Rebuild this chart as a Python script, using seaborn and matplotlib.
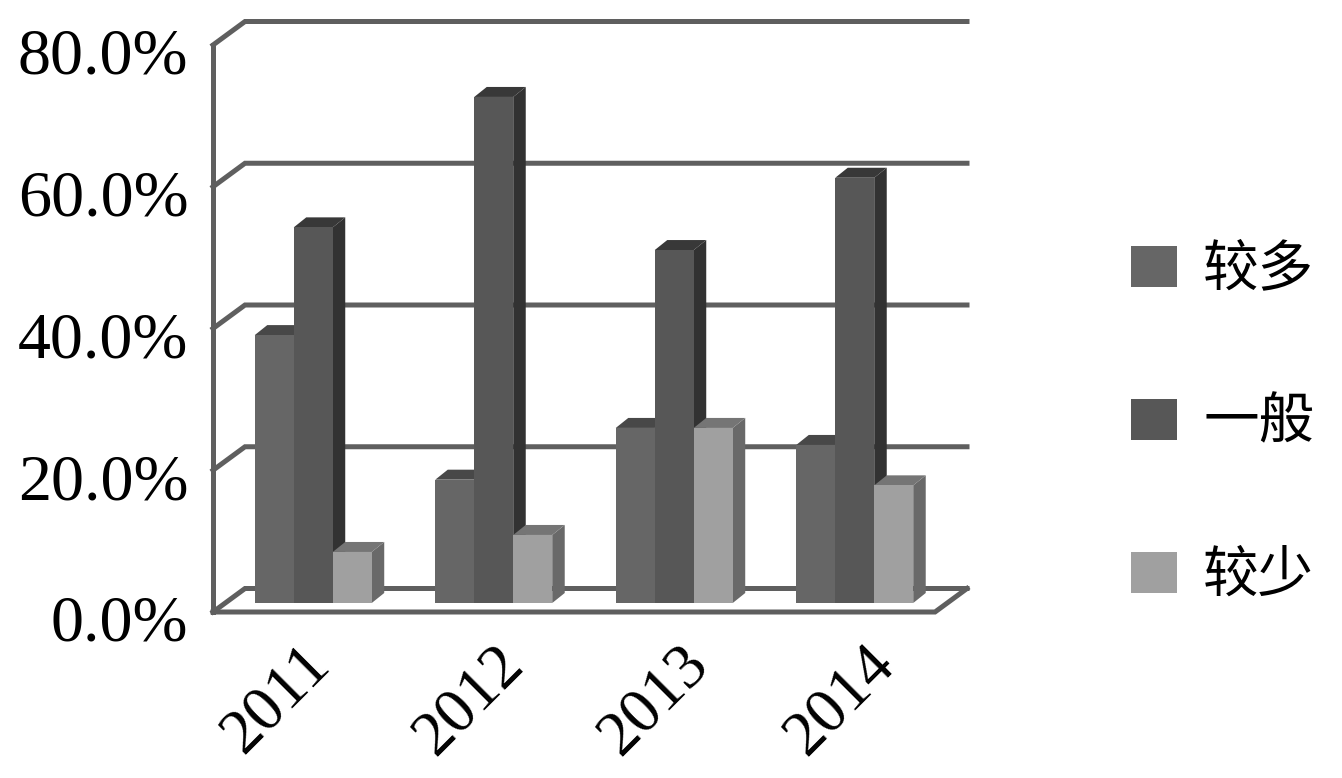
# Barras con falso 3D, escala de grises
import matplotlib
matplotlib.use('Agg')
import matplotlib.pyplot as plt
from matplotlib.patches import Polygon
from matplotlib.transforms import ScaledTranslation
import pandas as pd
import seaborn as sns

# Datos
ANIOS = ['2011', '2012', '2013', '2014']
SERIES = ['较多', '一般', '较少']
VAL_MAS = [37.8, 17.4, 24.7, 22.3]
VAL_MEDIO = [53.0, 71.4, 49.8, 60.0]
VAL_MENOS = [7.2, 9.6, 24.7, 16.6]
TICKS_Y = [0, 20, 40, 60, 80]

COLORES = ['#666666', '#575757', '#a0a0a0']
LADOS = ['#424242', '#323232', '#696969']
TECHOS = ['#484848', '#383838', '#757575']
GRIS = '#5f5f5f'

df = pd.DataFrame({
	'anio': ANIOS * 3,
	'serie': [s for s in SERIES for _ in ANIOS],
	'valor': VAL_MAS + VAL_MEDIO + VAL_MENOS,
})

sns.set_theme(style='white')
plt.rcParams['font.family'] = ['Liberation Serif', 'Noto Sans CJK SC', 'DejaVu Sans']

W, H = 1342, 778
fig = plt.figure(figsize=(W / 100, H / 100), dpi=100, facecolor='white')
ax = fig.add_axes([223 / W, (H - 603) / H, 722 / W, 567 / H])

g = sns.barplot(data=df, x='anio', y='valor', hue='serie', order=ANIOS, hue_order=SERIES,
                palette=COLORES, width=0.648, gap=0, saturation=1, ax=ax, legend=False)
ax.set_xlim(-0.5, 3.5)
ax.set_ylim(0, 80)
ax.set(xlabel='', ylabel='')
sns.despine(ax=ax, left=True, bottom=True)
ax.patch.set_alpha(0)

# Conversion de pixeles a datos
PX = 1 / 180.5
PY = 80 / 567
DX, DY = 12.5 * PX, 10 * PY


def linea(xs, ys, z=1):
	ax.plot(xs, ys, color=GRIS, lw=3.6, zorder=z, clip_on=False, solid_capstyle='projecting',
	        solid_joinstyle='miter')


# Paredes: plano frontal y de fondo respecto del plano de las barras
fx, fy = -10 * PX, -9 * PY
bx, by = 22 * PX, 14.5 * PY
x_izq, x_der = -0.5, 3.5
for v in TICKS_Y:
	linea([x_izq + fx, x_izq + bx, x_der + bx], [v + fy, v + by, v + by])
linea([x_izq + fx, x_izq + fx], [TICKS_Y[0] + fy, TICKS_Y[-1] + fy])
linea([x_izq + fx, x_der + fx, x_der + bx], [fy, fy, by])

# Caras laterales y superiores
for i, cont in enumerate(g.containers):
	for p in cont:
		x0, x1, h = p.get_x(), p.get_x() + p.get_width(), p.get_height()
		p.set_zorder(3 + i * 2 + 1)
		p.set_linewidth(0)
		lado = Polygon([(x1, 0), (x1 + DX, DY), (x1 + DX, h + DY), (x1, h)], closed=True,
		               facecolor=LADOS[i], lw=0, zorder=3 + i * 2, clip_on=False)
		techo = Polygon([(x0, h), (x0 + DX, h + DY), (x1 + DX, h + DY), (x1, h)], closed=True,
		                facecolor=TECHOS[i], lw=0, zorder=3 + i * 2, clip_on=False)
		ax.add_patch(lado)
		ax.add_patch(techo)

# Eje Y
ax.set_yticks(TICKS_Y)
ax.set_yticklabels(['{:.1f}%'.format(v) for v in TICKS_Y], fontsize=47.5, color='black')
ax.tick_params(axis='y', length=0, pad=25)
for lab in ax.get_yticklabels():
	lab.set_transform(lab.get_transform() + ScaledTranslation(0, -15 / 100, fig.dpi_scale_trans))

# Eje X
ax.tick_params(axis='x', length=0, pad=0)
ax.set_xticks(range(len(ANIOS)))
ax.set_xticklabels(ANIOS, fontsize=46, rotation=45, ha='right', va='top', rotation_mode='anchor',
                   color='black')
for lab, corr in zip(ax.get_xticklabels(), [-13, 0, 5, 10]):
	lab.set_transform(lab.get_transform() + ScaledTranslation(corr / 100, -32 / 100, fig.dpi_scale_trans))

# Leyenda
leg = ax.legend(g.containers, SERIES, loc='center left', bbox_to_anchor=(1081 / W, 1 - 423 / H),
                bbox_transform=fig.transFigure, frameon=False,
                handlelength=0.83, handleheight=0.76, handletextpad=0.47, labelspacing=1.72,
                prop={'family': ['Noto Sans CJK SC'], 'size': 40}, labelcolor='black')
for h_ in leg.legend_handles:
	h_.set_linewidth(0)

fig.savefig('out.png', dpi=100)
